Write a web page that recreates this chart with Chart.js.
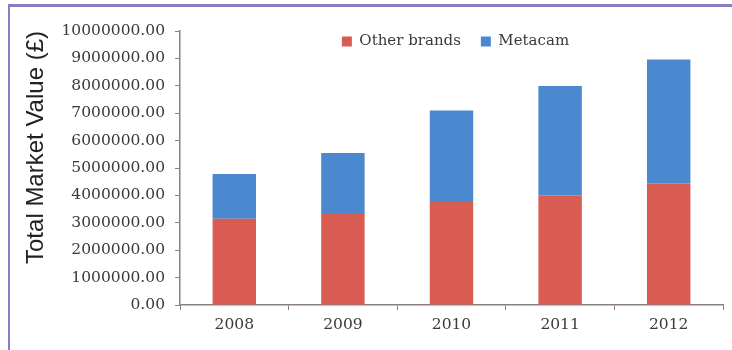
<!DOCTYPE html>
<html>
<head>
<meta charset="utf-8">
<script src="https://cdn.jsdelivr.net/npm/chart.js@4/dist/chart.umd.min.js"></script>
<style>
  html, body { margin: 0; padding: 0; background: #fff; }
  #frame { position: absolute; left: 8px; top: 4px; width: 800px; height: 400px;
           border-left: 2px solid #8e7cc3; border-top: 3px solid #8e7cc3; }
  #wrap { position: absolute; left: 0; top: 0; width: 732px; height: 350px; }
</style>
</head>
<body>
<div id="frame"></div>
<div id="wrap"><canvas id="marketChart" width="732" height="350"></canvas></div>
<script>
const years = ['2008', '2009', '2010', '2011', '2012'];
const otherBrands = [3150000, 3360000, 3760000, 4000000, 4430000];
const metacam = [1630000, 2190000, 3340000, 3990000, 4530000];
const yMax = 10000000;
const yStep = 1000000;

const axisColor = '#8a8082';
const textColor = '#3a3a3a';

// legend sits inside the plot, near the top, laid out in one row
const legendInside = {
    id: 'legendInside',
    beforeLayout(chart) {
        const lg = chart.legend;
        if (lg && !lg._patched) {
            const fit = lg.fit;
            lg.fit = function() { fit.call(this); this.height = 0; };
            lg._patched = true;
        }
    },
    afterLayout(chart) {
        const lg = chart.legend;
        lg.top = 14;
        lg.bottom = lg.top + 40;
        lg.left = chart.chartArea.left + 4;
        lg.right = chart.chartArea.right + 4;
    }
};

const ctx = document.getElementById('marketChart').getContext('2d');
const marketChart = new Chart(ctx, {
    type: 'bar',
    data: {
        labels: years,
        datasets: [
            {
                label: 'Other brands',
                data: otherBrands,
                backgroundColor: '#d85c52',
                barPercentage: 0.8,
                categoryPercentage: 0.5
            },
            {
                label: 'Metacam',
                data: metacam,
                backgroundColor: '#4a89cf',
                barPercentage: 0.8,
                categoryPercentage: 0.5
            }
        ]
    },
    options: {
        responsive: false,
        animation: false,
        layout: { padding: { left: 20, right: 9, top: 31, bottom: 0 } },
        plugins: {
            tooltip: { enabled: false },
            legend: {
                position: 'top',
                fullSize: false,
                labels: {
                    boxWidth: 10,
                    boxHeight: 10,
                    padding: 20,
                    color: textColor,
                    font: { family: 'DejaVu Serif', size: 15 }
                }
            }
        },
        scales: {
            x: {
                stacked: true,
                afterFit: function(s) { s.height = 45; },
                grid: { drawOnChartArea: false, tickLength: 5, color: axisColor },
                border: { color: axisColor, width: 1.5 },
                ticks: { padding: 6, color: textColor, font: { family: 'DejaVu Serif', size: 15.5 } }
            },
            y: {
                stacked: true,
                min: 0,
                max: yMax,
                afterFit: function(s) { s.width = 160; },
                grid: { drawOnChartArea: false, tickLength: 5, color: axisColor },
                border: { color: axisColor, width: 1.5 },
                ticks: {
                    stepSize: yStep,
                    padding: 10,
                    color: textColor,
                    font: { family: 'DejaVu Serif', size: 15.5 },
                    callback: function(v) { return v.toFixed(2); }
                },
                title: {
                    display: true,
                    text: 'Total Market Value (£)',
                    align: 'end',
                    color: '#222',
                    padding: { top: 2, bottom: 0 },
                    font: { family: 'Liberation Sans', size: 24 }
                }
            }
        }
    },
    plugins: [legendInside]
});
</script>
</body>
</html>
